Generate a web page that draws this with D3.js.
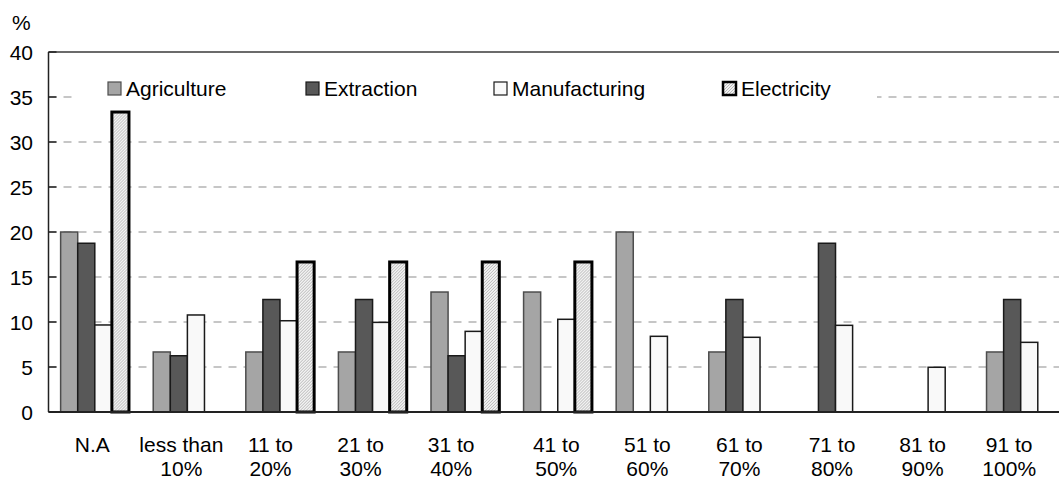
<!DOCTYPE html>
<html>
<head>
<meta charset="utf-8">
<script src="https://cdn.jsdelivr.net/npm/d3@7"></script>
<style>
  body { margin: 0; background: #fff; }
  text { font-family: "Liberation Sans", Arial, sans-serif; fill: #000; }
</style>
</head>
<body>
<div id="vizArea"></div>
<script>
// data
const categories = ["N.A", "less than 10%", "11 to 20%", "21 to 30%", "31 to 40%", "41 to 50%",
  "51 to 60%", "61 to 70%", "71 to 80%", "81 to 90%", "91 to 100%"]
const tickLabels = [["N.A"], ["less than", "10%"], ["11 to", "20%"], ["21 to", "30%"], ["31 to", "40%"],
  ["41 to", "50%"], ["51 to", "60%"], ["61 to", "70%"], ["71 to", "80%"], ["81 to", "90%"], ["91 to", "100%"]]
const seriesNames = ["Agriculture", "Extraction", "Manufacturing", "Electricity"]
const agriculture   = [20, 6.67, 6.67, 6.67, 13.33, 13.33, 20, 6.67, 0, 0, 6.67]
const extraction    = [18.75, 6.25, 12.5, 12.5, 6.25, 0, 0, 12.5, 18.75, 0, 12.5]
const manufacturing = [9.67, 10.78, 10.14, 9.96, 8.96, 10.3, 8.41, 8.3, 9.63, 4.97, 7.74]
const electricity   = [33.33, 0, 16.67, 16.67, 16.67, 16.67, 0, 0, 0, 0, 0]
const yTicks = [0, 5, 10, 15, 20, 25, 30, 35, 40]

// layout (not data)
const labelNudge = [-2.5, -6, -9.5, -12, -14, -1.5, -3, -3.5, -3.5, -5.5, -11.5]
const legendX = [108, 306, 494, 723]
const fontSize = "21px"

const width = 1059, height = 481
const plot = {left: 48.5, right: 1067, top: 52, bottom: 412}

const svg = d3.select("#vizArea").append("svg")
  .attr("width", width).attr("height", height)

const defs = svg.append("defs")
const pat = defs.append("pattern")
  .attr("id", "hatch").attr("patternUnits", "userSpaceOnUse")
  .attr("width", 3).attr("height", 3)
pat.append("rect").attr("width", 3).attr("height", 3).attr("fill", "#f2f2f2")
pat.append("path").attr("d", "M-1,1 l2,-2 M0,3 l3,-3 M2,4 l2,-2")
  .attr("stroke", "#b8b8b8").attr("stroke-width", 1)

const styles = [
  {fill: "#a5a5a5", stroke: "#4d4d4d", sw: 1.5},
  {fill: "#585858", stroke: "#1a1a1a", sw: 1.5},
  {fill: "#f9f9f9", stroke: "#1a1a1a", sw: 1.5},
  {fill: "url(#hatch)", stroke: "#000", sw: 3}
]

const x0 = d3.scaleBand().domain(categories).range([plot.left, plot.right]).padding(0)
const groupW = x0.bandwidth() * 0.738
const x1 = d3.scaleBand().domain(seriesNames)
  .range([(x0.bandwidth() - groupW) / 2, (x0.bandwidth() + groupW) / 2])
const y = d3.scaleLinear().domain([0, 40]).range([plot.bottom, plot.top])

// gridlines
svg.append("g").selectAll("line")
  .data(yTicks.filter(d => d > 0 && d < 40))
  .enter().append("line")
  .attr("x1", plot.left).attr("x2", width)
  .attr("y1", d => y(d)).attr("y2", d => y(d))
  .attr("stroke", "#b4b4b4").attr("stroke-width", 1.5)
  .attr("stroke-dasharray", "8,7")

// legend background hides gridline
svg.append("rect").attr("x", 72).attr("y", 76).attr("width", 805).attr("height", 34).attr("fill", "#fff")

// bars
const table = categories.map((c, i) => ({
  cat: c,
  vals: [agriculture[i], extraction[i], manufacturing[i], electricity[i]]
}))

const groups = svg.append("g").selectAll("g")
  .data(table).enter().append("g")
  .attr("transform", d => `translate(${x0(d.cat)},0)`)

groups.selectAll("rect")
  .data(d => d.vals.map((v, k) => ({k: k, v: v})).filter(e => e.v > 0))
  .enter().append("rect")
  .attr("x", e => x1(seriesNames[e.k]))
  .attr("width", x1.bandwidth())
  .attr("y", e => y(e.v))
  .attr("height", e => y(0) - y(e.v))
  .attr("fill", e => styles[e.k].fill)
  .attr("stroke", e => styles[e.k].stroke)
  .attr("stroke-width", e => styles[e.k].sw)

// axes / frame
svg.append("line").attr("x1", plot.left).attr("x2", width)
  .attr("y1", plot.top).attr("y2", plot.top)
  .attr("stroke", "#3a3a3a").attr("stroke-width", 1.5)
svg.append("line").attr("x1", plot.left).attr("x2", plot.left)
  .attr("y1", plot.top).attr("y2", plot.bottom)
  .attr("stroke", "#222").attr("stroke-width", 1.5)
svg.append("line").attr("x1", plot.left).attr("x2", width)
  .attr("y1", plot.bottom).attr("y2", plot.bottom)
  .attr("stroke", "#222").attr("stroke-width", 2)

// y ticks (inward) and labels
svg.append("g").selectAll("line")
  .data(yTicks).enter().append("line")
  .attr("x1", plot.left).attr("x2", plot.left + 8)
  .attr("y1", d => y(d)).attr("y2", d => y(d))
  .attr("stroke", "#222").attr("stroke-width", 1.5)

svg.append("g").selectAll("text")
  .data(yTicks).enter().append("text")
  .attr("x", 33).attr("y", d => y(d) + 7.5)
  .attr("text-anchor", "end")
  .style("font-size", fontSize)
  .text(d => d)

svg.append("text").attr("x", 12).attr("y", 30).style("font-size", fontSize).text("%")

// x labels
categories.forEach((c, i) => {
  const cx = x0(c) + x0.bandwidth() / 2 + labelNudge[i]
  const t = svg.append("text").attr("text-anchor", "middle").style("font-size", fontSize)
  tickLabels[i].forEach((line, j) => {
    t.append("tspan").attr("x", cx).attr("y", 452 + j * 24).text(line)
  })
})

// legend
const leg = svg.append("g").selectAll("g")
  .data(seriesNames).enter().append("g")
  .attr("transform", (d, i) => `translate(${legendX[i]},82)`)
leg.append("rect")
  .attr("width", 13).attr("height", 13)
  .attr("fill", (d, i) => styles[i].fill)
  .attr("stroke", (d, i) => styles[i].stroke)
  .attr("stroke-width", (d, i) => i === 3 ? 2.5 : 1.2)
leg.append("text")
  .attr("x", 18).attr("y", 14)
  .style("font-size", fontSize)
  .text(d => d)
</script>
</body>
</html>
